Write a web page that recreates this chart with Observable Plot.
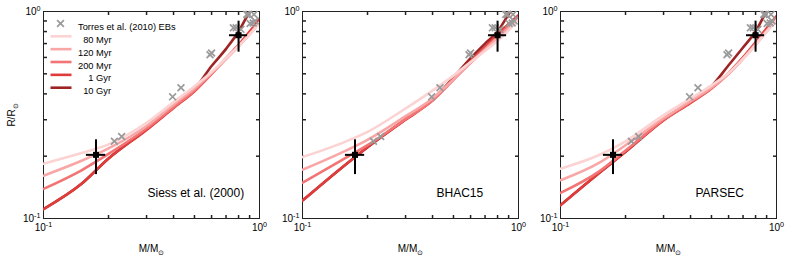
<!DOCTYPE html>
<html><head><meta charset="utf-8">
<script src="https://cdn.jsdelivr.net/npm/d3@7"></script>
<script src="https://cdn.jsdelivr.net/npm/@observablehq/plot@0.6"></script>
<style>
body{margin:0;background:#fff;}
#chart{position:relative;width:789px;height:257px;overflow:hidden;}
#chart svg{position:absolute;top:0;}
</style></head><body><div id="chart"></div>
<script>
// ---------- data ----------
const panelNames = ["Siess et al. (2000)", "BHAC15", "PARSEC"];
const ages = ["80 Myr", "120 Myr", "200 Myr", "1 Gyr", "10 Gyr"];
const ageLegendLabels = ["\u200780 Myr", "120 Myr", "200 Myr", "\u2007\u20071 Gyr", "\u200710 Gyr"];
const ageColors = ["#fcd3d3", "#f8a6a6", "#f27474", "#e03c3c", "#9e2424"];
const masses = [0.1, 0.15, 0.2, 0.3, 0.4, 0.5, 0.6, 0.7, 0.8, 0.9, 1.0];
// radii (R/Rsun) per age, same order as ages, at the masses above
const siessRadii = [
  [0.184, 0.207, 0.228, 0.290, 0.365, 0.435, 0.51, 0.595, 0.68, 0.775, 0.88],
  [0.161, 0.190, 0.218, 0.280, 0.355, 0.425, 0.505, 0.59, 0.68, 0.775, 0.88],
  [0.139, 0.171, 0.205, 0.272, 0.345, 0.415, 0.50, 0.59, 0.68, 0.78, 0.89],
  [0.111, 0.147, 0.195, 0.268, 0.342, 0.412, 0.50, 0.595, 0.69, 0.80, 0.92],
  [0.111, 0.147, 0.195, 0.270, 0.345, 0.42, 0.545, 0.66, 0.80, 1.0, 1.2]
];
const bhacRadii = [
  [0.198, 0.230, 0.262, 0.340, 0.415, 0.49, 0.57, 0.645, 0.72, 0.81, 0.92],
  [0.172, 0.207, 0.240, 0.312, 0.380, 0.47, 0.565, 0.655, 0.745, 0.83, 0.92],
  [0.149, 0.190, 0.226, 0.302, 0.372, 0.468, 0.565, 0.66, 0.755, 0.85, 0.94],
  [0.122, 0.174, 0.221, 0.300, 0.372, 0.472, 0.572, 0.672, 0.775, 0.87, 0.96],
  [0.122, 0.174, 0.221, 0.302, 0.375, 0.48, 0.595, 0.70, 0.80, 0.97, 1.15]
];
const parsecRadii = [
  [0.174, 0.202, 0.236, 0.316, 0.380, 0.44, 0.505, 0.59, 0.69, 0.80, 0.905],
  [0.153, 0.185, 0.226, 0.305, 0.370, 0.43, 0.50, 0.59, 0.69, 0.80, 0.90],
  [0.133, 0.168, 0.213, 0.300, 0.365, 0.425, 0.50, 0.595, 0.70, 0.81, 0.91],
  [0.116, 0.165, 0.210, 0.298, 0.362, 0.425, 0.505, 0.60, 0.71, 0.83, 0.95],
  [0.116, 0.165, 0.210, 0.300, 0.365, 0.435, 0.55, 0.67, 0.80, 1.0, 1.15]
];
const panelRadii = [siessRadii, bhacRadii, parsecRadii];
// Torres et al. (2010) eclipsing binaries
const ebMass   = [0.213, 0.230, 0.396, 0.433, 0.590, 0.600, 0.757, 0.780, 0.820, 0.873, 0.890, 0.943, 0.905, 0.935, 0.955];
const ebRadius = [0.236, 0.249, 0.387, 0.428, 0.618, 0.630, 0.834, 0.834, 0.820, 0.968, 0.968, 0.968, 0.875, 0.880, 0.900];
const ebLabel = "Torres et al. (2010) EBs";
// measured components with error bars
const objMass   = [0.175, 0.80];
const objMassLo = [0.158, 0.726];
const objMassHi = [0.194, 0.881];
const objRad    = [0.203, 0.768];
const objRadLo  = [0.163, 0.636];
const objRadHi  = [0.240, 0.898];
// axes
const axisTicks = [0.1, 1];
const axisTickLabels = ["10^-1", "10^0"];
const minorTicks = [0.2, 0.3, 0.4, 0.5, 0.6, 0.7, 0.8, 0.9];

// ---------- build ----------
const ebs = ebMass.map((m, i) => ({m, r: ebRadius[i]}));
const objs = objMass.map((m, i) => ({m, mLo: objMassLo[i], mHi: objMassHi[i], r: objRad[i], rLo: objRadLo[i], rHi: objRadHi[i]}));
function curveRows(radii) {
  const rows = [];
  for (let i = ages.length - 1; i >= 0; i--) {
    masses.forEach((m, j) => rows.push({age: ages[i], mass: m, radius: radii[i][j]}));
  }
  return rows;
}
const fmt = d => axisTickLabels[axisTicks.indexOf(d)] ?? "";
const TL = 3.5;
const tickUp = {draw(c){c.moveTo(0,0); c.lineTo(0,-TL);}};
const tickDown = {draw(c){c.moveTo(0,0); c.lineTo(0,TL);}};
const tickRight = {draw(c){c.moveTo(0,0); c.lineTo(TL,0);}};
const tickLeft = {draw(c){c.moveTo(0,0); c.lineTo(-TL,0);}};
const hline = {draw(c){c.moveTo(-10.5,0); c.lineTo(10.5,0);}};
const labelDx = [104, 134, 135];
const lefts = [0, 259, 517];
const font = "'Liberation Sans', Arial, Helvetica, sans-serif";

function richText(svg) {
  const ns = "http://www.w3.org/2000/svg";
  svg.querySelectorAll("text").forEach(t => {
    let s = t.textContent.replace(/\s*[←↑→↓]\s*/g, "");
    if (s !== t.textContent) t.textContent = s;
    const m = s.match(/^(.*?)([\^_])(.+)$/);
    if (!m) return;
    t.textContent = "";
    const a = document.createElementNS(ns, "tspan"); a.textContent = m[1]; t.appendChild(a);
    const b = document.createElementNS(ns, "tspan"); b.textContent = m[3];
    b.setAttribute("font-size", "0.72em");
    b.setAttribute("dy", m[2] === "^" ? "-0.55em" : "0.45em");
    t.appendChild(b);
  });
}

const chart = document.getElementById("chart");
panelNames.forEach((name, p) => {
  const marks = [
    Plot.frame({stroke: "#222", strokeWidth: 1}),
    Plot.dot(minorTicks, {x: d => d, y: () => 0.1, symbol: tickUp, stroke: "#222", fill: "none"}),
    Plot.dot(minorTicks, {x: d => d, y: () => 1, symbol: tickDown, stroke: "#222", fill: "none"}),
    Plot.dot(minorTicks, {y: d => d, x: () => 0.1, symbol: tickRight, stroke: "#222", fill: "none"}),
    Plot.dot(minorTicks, {y: d => d, x: () => 1, symbol: tickLeft, stroke: "#222", fill: "none"}),
    Plot.line(curveRows(panelRadii[p]), {x: "mass", y: "radius", z: "age", stroke: "age", strokeWidth: 2.6, curve: "monotone-x", clip: true}),
    Plot.dot(ebs, {x: "m", y: "r", symbol: "times", stroke: "#9a9a9a", strokeWidth: 1.7, r: 3.2}),
    Plot.ruleX(objs, {x: "m", y1: "rLo", y2: "rHi", stroke: "black", strokeWidth: 2}),
    Plot.ruleY(objs, {y: "r", x1: "mLo", x2: "mHi", stroke: "black", strokeWidth: 2}),
    Plot.dot(objs, {x: "m", y: "r", symbol: "square", fill: "black", r: 3.4}),
    Plot.text([name], {frameAnchor: "bottom-left", textAnchor: "start", dx: labelDx[p], dy: -22, fontSize: 12, fill: "black"})
  ];
  if (p === 0) {
    marks.push(
      Plot.dot([ebLabel], {frameAnchor: "top-left", dx: 17, dy: 12, symbol: "times", stroke: "#9a9a9a", strokeWidth: 1.7, r: 3.2}),
      Plot.text([ebLabel], {frameAnchor: "top-left", dx: 34.5, dy: 12.3, textAnchor: "start", fontSize: 9.3, fill: "black"})
    );
    ages.forEach((a, i) => {
      marks.push(
        Plot.dot([a], {frameAnchor: "top-left", dx: 17.5, dy: 24.8 + i * 12.85, symbol: hline, stroke: ageColors[i], strokeWidth: 2.6, fill: "none"}),
        Plot.text([ageLegendLabels[i]], {frameAnchor: "top-left", dx: 34.5, dy: 24.8 + i * 12.85, textAnchor: "start", fontSize: 9.3, fill: "black"})
      );
    });
  }
  const svg = Plot.plot({
    width: 273, height: 257,
    marginLeft: 43, marginRight: 14, marginTop: 11, marginBottom: 39,
    style: {fontFamily: font, fontSize: "10px", background: "transparent", color: "black", overflow: "visible"},
    x: {type: "log", domain: [0.1, 1], ticks: axisTicks, tickFormat: fmt, tickSize: 0, tickPadding: 5, label: "M/M_⊙", labelAnchor: "center", labelOffset: 33, labelArrow: false},
    y: {type: "log", domain: [0.1, 1], ticks: axisTicks, tickFormat: fmt, tickSize: 0, tickPadding: 3, label: p === 0 ? "R/R_⊙" : null, labelAnchor: "center", labelOffset: 36, labelArrow: false},
    color: {domain: ages, range: ageColors},
    marks
  });
  svg.style.left = lefts[p] + "px";
  richText(svg);
  chart.appendChild(svg);
});
</script></body></html>
